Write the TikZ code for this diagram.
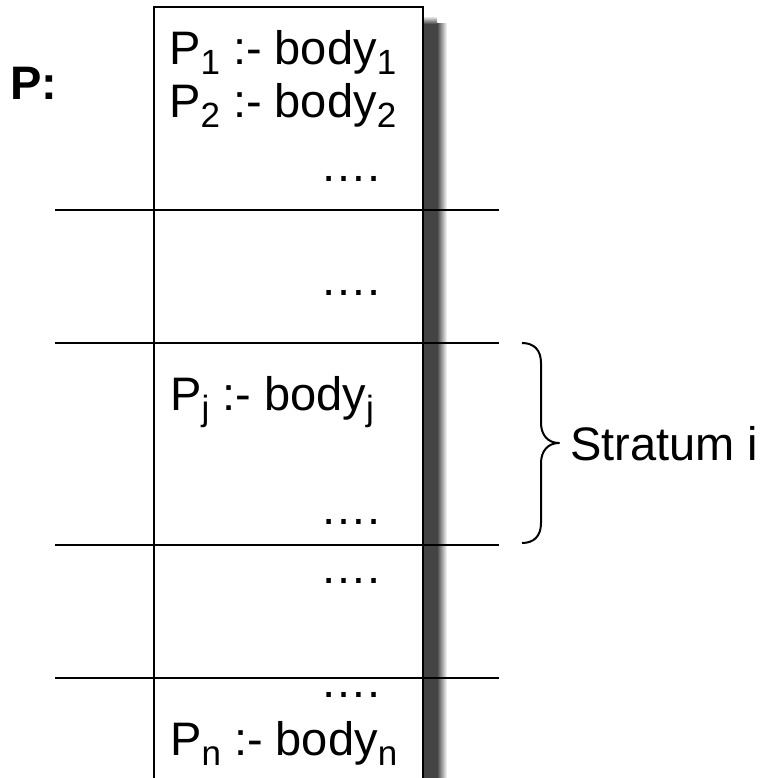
\documentclass[tikz,border=0pt]{standalone}
\usepackage{fontspec}
\setmainfont{Liberation Sans}
\begin{document}
% one unit = 1pt, y axis pointing down
\newcommand\mysub[1]{\raisebox{-10pt}{\fontsize{35}{35}\selectfont #1}}
\newcommand\moredots{\char"2026.}
\definecolor{shadowgray}{HTML}{444444}
\tikzset{
  rule/.style={line width=2.2pt},
  frame/.style={line width=1.6pt},
  txt/.style={inner sep=0pt, anchor=base west, font=\fontsize{47}{50}\selectfont},
}
\begin{tikzpicture}[x=1pt,y=-1pt]
\useasboundingbox (0,0) rectangle (762,778);

% drop shadow on the right of the column
\fill[shadowgray] (423,24) rectangle (437,778);
\shade[left color=shadowgray, right color=white] (437,24) rectangle (447,778);
\shade[top color=white, bottom color=shadowgray] (423,16) rectangle (437,24);

% the program column
\draw[frame, fill=white] (154,779) -- (154,7) -- (423,7) -- (423,779);

% stratum separators
\foreach \y/\n in {210/a,343/b,545/c,678/d}{
  \coordinate (l\n) at (55,\y);
  \coordinate (r\n) at (499,\y);
  \draw[rule] (l\n) -- (r\n);
}

% labels
\node[txt, font=\fontsize{47}{50}\selectfont\bfseries] (prog) at (10,100) {P:};
\node[txt] (r1) at (169,65) {P\mysub{1} :- body\mysub{1}};
\node[txt] (r2) at (169,118) {P\mysub{2} :- body\mysub{2}};
\node[txt] (d1) at (320,182) {\moredots};
\node[txt] (d2) at (320,295) {\moredots};
\node[txt] (rj) at (170,410) {P\mysub{j} :- body\mysub{j}};
\node[txt] (d3) at (320,524) {\moredots};
\node[txt] (d4) at (320,583) {\moredots};
\node[txt] (d5) at (320,697) {\moredots};
\node[txt] (rn) at (170,755) {P\mysub{n} :- body\mysub{n}};

% brace marking stratum i
\coordinate (bt) at (522,343);
\coordinate (tip) at (559,443);
\coordinate (bb) at (522,543);
\draw[line width=2pt, line join=round]
  (bt) .. controls (534,343) and (541,350) .. (541,363)
  -- (541,423) .. controls (541,435) and (548,443) .. (tip)
  .. controls (548,443) and (541,451) .. (541,463)
  -- (541,523) .. controls (541,536) and (534,543) .. (bb);
\node[txt] (strat) at (570,460) {Stratum i};
\end{tikzpicture}
\end{document}
